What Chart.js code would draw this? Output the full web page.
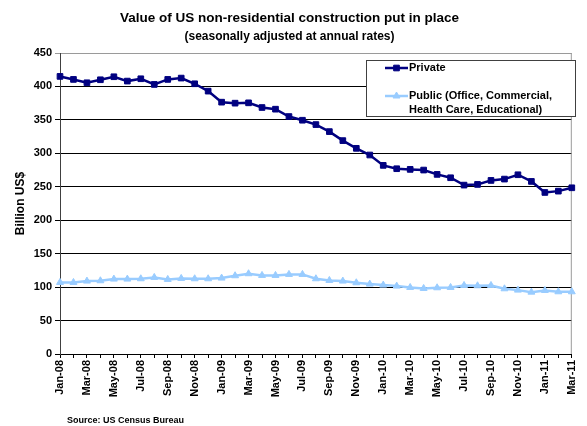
<!DOCTYPE html>
<html>
<head>
<meta charset="utf-8">
<script src="https://cdn.jsdelivr.net/npm/chart.js@4/dist/chart.umd.min.js"></script>
<style>
html,body{margin:0;padding:0;background:#fff}
#wrap{width:587px;height:426px}
</style>
</head>
<body>
<div id="wrap"><canvas id="chart" width="587" height="426"></canvas></div>
<script>
// monthly, Jan-08 .. Mar-11
const months = ["Jan-08","Feb-08","Mar-08","Apr-08","May-08","Jun-08","Jul-08","Aug-08","Sep-08","Oct-08","Nov-08","Dec-08",
"Jan-09","Feb-09","Mar-09","Apr-09","May-09","Jun-09","Jul-09","Aug-09","Sep-09","Oct-09","Nov-09","Dec-09",
"Jan-10","Feb-10","Mar-10","Apr-10","May-10","Jun-10","Jul-10","Aug-10","Sep-10","Oct-10","Nov-10","Dec-10",
"Jan-11","Feb-11","Mar-11"]

const privateVals = [415,410.5,405.5,410,414.5,408,411.5,403,410.5,412.5,404,393,
376.5,375,375.5,368.5,366,355,349.5,343,332.5,319,307.5,297.5,
282,277,276,275,268.5,263.5,252.5,253.5,259.5,261.5,268,258,
241.5,243.5,248.5]

const publicVals = [107,107,109,109.5,112,112,112.5,114.5,111.5,113,112.5,112.5,
113.5,117,120,117.5,117.5,119,119,112.5,110,109,106.5,104.5,
103,101.5,99.5,98,99,99.5,102.5,102,102.5,97.5,95.5,92.5,
95,93,93]

const yTicks = [0,50,100,150,200,250,300,350,400,450]

const legendText = [["Private"], ["Public (Office, Commercial,", "Health Care, Educational)"]]
const sourceText = "Source: US Census Bureau"

const FONT = "Arial, 'Liberation Sans', sans-serif"

const extras = {
id: "extras",
beforeDatasetsDraw(chart){
let a = chart.chartArea
let c = chart.ctx
c.save()
c.strokeStyle = "#9a9a9a"
c.lineWidth = 1
c.beginPath()
c.moveTo(a.right - 0.5, a.top)
c.lineTo(a.right - 0.5, a.bottom)
c.stroke()
c.restore()
},
afterDraw(chart){
let c = chart.ctx
c.save()
// legend box
let bx = 366, by = 60, bw = 209, bh = 56
c.fillStyle = "#fff"
c.fillRect(bx, by, bw, bh)
c.strokeStyle = "#404040"
c.lineWidth = 1
c.strokeRect(bx + 0.5, by + 0.5, bw, bh)
c.font = "bold 11px " + FONT
c.textBaseline = "middle"
c.textAlign = "left"
let rows = [68, 96]
chart.data.datasets.forEach((ds, i)=>{
let y = rows[i]
c.strokeStyle = ds.borderColor
c.fillStyle = ds.backgroundColor
c.lineWidth = 2.5
c.beginPath()
c.moveTo(385, y)
c.lineTo(408, y)
c.stroke()
c.lineWidth = 1
Chart.helpers.drawPoint(c, {pointStyle: ds.pointStyle, radius: 4, rotation: 0, borderWidth: 1}, 396.5, y)
c.fillStyle = "#000"
legendText[i].forEach((t, j)=>{
c.fillText(t, 409, y + j * 13.5)
})
})
// source
c.font = "bold 9px " + FONT
c.fillStyle = "#000"
c.fillText(sourceText, 67, 421)
c.restore()
}
}

new Chart(document.getElementById("chart"), {
type: "line",
data: {
labels: months,
datasets: [{
label: "Private",
data: privateVals,
borderColor: "#000080",
backgroundColor: "#000080",
borderWidth: 2.5,
pointStyle: "rect",
pointRadius: 4,
pointBorderWidth: 1,
tension: 0
},{
label: "Public (Office, Commercial, Health Care, Educational)",
data: publicVals,
borderColor: "#99ccff",
backgroundColor: "#99ccff",
borderWidth: 2.5,
pointStyle: "triangle",
pointRadius: 4,
pointBorderWidth: 1,
tension: 0
}]
},
options: {
responsive: false,
animation: false,
layout: {padding: {left: 0, right: 8, top: 0, bottom: 0}},
plugins: {
legend: {display: false},
tooltip: {enabled: false},
title: {
display: true,
text: "Value of US non-residential construction put in place",
color: "#000",
font: {family: FONT, size: 13.5, weight: "bold"},
padding: {top: 10, bottom: 3}
},
subtitle: {
display: true,
text: "(seasonally adjusted at annual rates)",
color: "#000",
font: {family: FONT, size: 12, weight: "bold"},
padding: {top: 0, bottom: 9.4}
}
},
scales: {
x: {
offset: false,
grid: {display: true, drawOnChartArea: false, drawTicks: true, tickLength: 4, color: "#000"},
border: {color: "#000", width: 1},
ticks: {
autoSkip: false, maxRotation: 90, minRotation: 90, padding: 2,
color: "#000",
font: {family: FONT, size: 11, weight: "bold"},
callback: (v, i) => i % 2 === 0 ? months[i] : ""
},
afterFit: s => { s.height = 72 }
},
y: {
min: 0, max: 450,
afterBuildTicks: s => { s.ticks = yTicks.map(v => ({value: v})) },
grid: {color: ctx => ctx.tick && ctx.tick.value === 450 ? "#9a9a9a" : "#000", tickLength: 5, lineWidth: 1},
border: {color: "#404040", width: 1},
ticks: {color: "#000", padding: 3, font: {family: FONT, size: 11, weight: "bold"}},
title: {
display: true, text: "Billion US$", color: "#000",
font: {family: FONT, size: 12, weight: "bold"},
padding: {top: 13, bottom: 0}
},
afterFit: s => { s.width = 60 }
}
}
},
plugins: [extras]
})
</script>
</body>
</html>
